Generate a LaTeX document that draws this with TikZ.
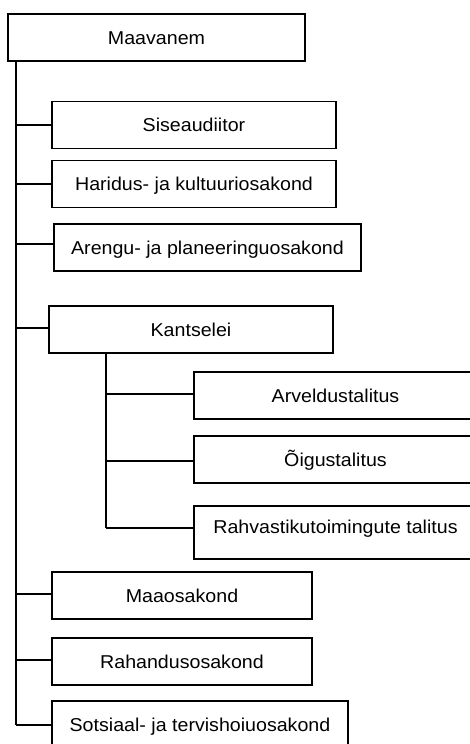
\documentclass[tikz,border=0pt]{standalone}
\usepackage{fontspec}
\setmainfont{Liberation Sans}[FakeStretch=1.055]
\usepackage{tikz}

\begin{document}
\begin{tikzpicture}[x=1bp,y=-1bp,
	box/.style={draw, line width=1.1bp, inner sep=0pt, font=\fontsize{18.6bp}{22bp}\selectfont,
		text height=13.3bp, text depth=0pt, minimum height=47bp},
	link/.style={line width=1.1bp}]

	\useasboundingbox (0,0) rectangle (470,744);
	\clip (0,0) rectangle (470,744);

	\node [box, minimum width=297bp] (maavanem) at (156.5,37.5) {Maavanem};

	\node [box, minimum width=284bp] (siseaud) at (194,125) {Siseaudiitor};
	\node [box, minimum width=284bp] (haridus) at (194,184) {Haridus- ja kultuuriosakond};
	\node [box, minimum width=307bp] (arengu) at (207.5,247.5) {Arengu- ja planeeringuosakond};
	\node [box, minimum width=284bp] (kantselei) at (191,329.5) {Kantselei};

	\node [box, minimum width=283bp] (arveldus) at (335.5,395.5) {Arveldustalitus};
	\node [box, minimum width=283bp] (oigus) at (335.5,459.5) {Õigustalitus};
	\node [box, minimum width=283bp, minimum height=53bp, text depth=11bp] (rahvastik) at (335.5,532.5) {Rahvastikutoimingute talitus};

	\node [box, minimum width=260bp] (maa) at (182,595.5) {Maaosakond};
	\node [box, minimum width=260bp] (rahandus) at (182,661.5) {Rahandusosakond};
	\node [box, minimum width=296bp] (sotsiaal) at (200,724.5) {Sotsiaal- ja tervishoiuosakond};

	% main trunk
	\coordinate (top) at (16,61);
	\coordinate (b1) at (16,125);
	\coordinate (b2) at (16,184);
	\coordinate (b3) at (16,244);
	\coordinate (b4) at (16,328);
	\coordinate (b5) at (16,594);
	\coordinate (b6) at (16,660);
	\coordinate (b7) at (16,725);

	% kantselei trunk
	\coordinate (ktop) at (106,353);
	\coordinate (k1) at (106,394);
	\coordinate (k2) at (106,461);
	\coordinate (k3) at (106,528);

	\draw [link] (top) -- (b7);
	\draw [link] (b1) -- (b1 -| siseaud.west);
	\draw [link] (b2) -- (b2 -| haridus.west);
	\draw [link] (b3) -- (b3 -| arengu.west);
	\draw [link] (b4) -- (b4 -| kantselei.west);
	\draw [link] (b5) -- (b5 -| maa.west);
	\draw [link] (b6) -- (b6 -| rahandus.west);
	\draw [link] (b7) -- (b7 -| sotsiaal.west);

	\draw [link] (ktop) -- (k3);
	\draw [link] (k1) -- (k1 -| arveldus.west);
	\draw [link] (k2) -- (k2 -| oigus.west);
	\draw [link] (k3) -- (k3 -| rahvastik.west);

\end{tikzpicture}
\end{document}
